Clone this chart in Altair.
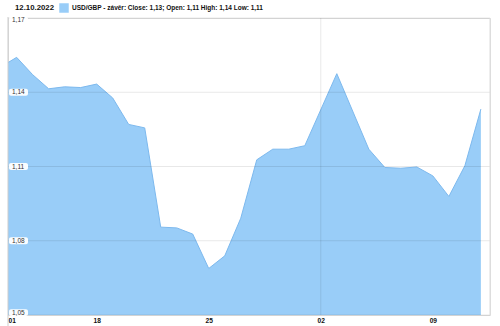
import altair as alt
import pandas as pd

# ---- data ----
days = [0, 1, 2, 3, 4, 5, 6, 7, 8, 9, 10, 11, 12, 13, 14, 15, 16, 17, 18, 19,
        21, 23, 24, 25, 26, 27, 28, 29, 30]
values = [1.1502, 1.1541, 1.1471, 1.1414, 1.1422, 1.1419, 1.1433, 1.1377, 1.1270, 1.1256,
          1.0855, 1.0852, 1.0827, 1.0688, 1.0739, 1.0891, 1.1127, 1.1170, 1.1170, 1.1184,
          1.1475, 1.1170, 1.1096, 1.1093, 1.1098, 1.1062, 1.0979, 1.1103, 1.1332]
series_name = "USD/GBP - závěr: Close: 1,13; Open: 1,11 High: 1,14 Low: 1,11"
date_label = "12.10.2022"
y_ticks = [1.05, 1.08, 1.11, 1.14, 1.17]
y_tick_labels = ["1,05", "1,08", "1,11", "1,14", "1,17"]
x_domain = [0.46, 30.57]
x_tick_days = [0.46, 6, 13, 20, 27]
x_tick_labels = ["01", "18", "25", "02", "09"]
month_days = [20]

FILL = "#99cdf8"
STROKE = "#7db9ee"
FONT = "Liberation Sans"

df = pd.DataFrame({"day": days, "value": values, "series": [series_name] * len(days)})
ylab = pd.DataFrame({
    "v": y_ticks,
    "label": y_tick_labels,
    "yl": [min(max(v, 1.0510), 1.1691) for v in y_ticks],
})
mdf = pd.DataFrame({"day": month_days})

xscale = alt.Scale(domain=x_domain, nice=False, zero=False)
yscale = alt.Scale(domain=[y_ticks[0], y_ticks[-1]], nice=False, zero=False)

label_expr = "{}[indexof({}, datum.value)]".format(
    "[" + ",".join("'%s'" % s for s in x_tick_labels) + "]",
    "[" + ",".join(str(v) for v in x_tick_days) + "]",
)

x_enc = alt.X(
    "day:Q", scale=xscale, title=None,
    axis=alt.Axis(values=x_tick_days, labelExpr=label_expr, grid=False, ticks=False,
                  domain=False, labelFont=FONT, labelFontWeight="bold", labelFontSize=6.6,
                  labelColor="#111111", labelPadding=2.5, labelFlush=True, labelBaseline="top"),
)

area = alt.Chart(df).mark_area(clip=True, opacity=1).encode(
    x=x_enc,
    y=alt.Y("value:Q", scale=yscale, axis=None),
    color=alt.Color(
        "series:N", scale=alt.Scale(range=[FILL]),
        legend=alt.Legend(
            title=date_label, orient="none", legendX=7, legendY=-15,
            direction="horizontal", titleOrient="left", symbolType="square",
            symbolSize=90, symbolStrokeWidth=0, symbolOpacity=1,
            labelFont=FONT, labelFontSize=6.5, labelFontWeight="bold", labelColor="#111111",
            labelLimit=500, labelOffset=3,
            titleFont=FONT, titleFontSize=7.8, titleFontWeight="bold", titleColor="#111111",
            titlePadding=4, padding=0,
        ),
    ),
)

line = alt.Chart(df).mark_line(clip=True, color=STROKE, strokeWidth=1).encode(
    x=alt.X("day:Q", scale=xscale),
    y=alt.Y("value:Q", scale=yscale),
)

grid = alt.Chart(ylab).mark_rule(color="black", opacity=0.09, strokeWidth=1).encode(
    y=alt.Y("v:Q", scale=yscale)
)

vgrid = alt.Chart(mdf).mark_rule(color="black", opacity=0.09, strokeWidth=1).encode(
    x=alt.X("day:Q", scale=xscale)
)

boxes = alt.Chart(ylab).mark_rect(color="white", cornerRadius=2, yOffset=-3.4, y2Offset=3.4,
                                  opacity=0.95).encode(
    x=alt.value(1), x2=alt.value(20),
    y=alt.Y("yl:Q", scale=yscale), y2="yl:Q",
)

texts = alt.Chart(ylab).mark_text(align="left", baseline="middle", font=FONT, fontSize=6.5,
                                  color="#333333", dx=0).encode(
    x=alt.value(4),
    y=alt.Y("yl:Q", scale=yscale),
    text="label:N",
)

left_rule = alt.Chart(mdf).mark_rule(color="#cccccc", strokeWidth=1).encode(
    x=alt.value(0), y=alt.value(-1), y2=alt.value(308)
)
right_rule = alt.Chart(mdf).mark_rule(color="#dddddd", strokeWidth=1).encode(
    x=alt.value(482), y=alt.value(0), y2=alt.value(297)
)

chart = alt.layer(area, line, grid, vgrid, boxes, texts, left_rule, right_rule).properties(
    width=482, height=297,
    padding={"left": 8, "top": 18, "right": 10, "bottom": 11},
    autosize=alt.AutoSizeParams(type="none"),
    background="white",
).configure_view(stroke=None).configure(font=FONT)

chart.save("out.html", embed_options={"renderer": "svg", "actions": False})
